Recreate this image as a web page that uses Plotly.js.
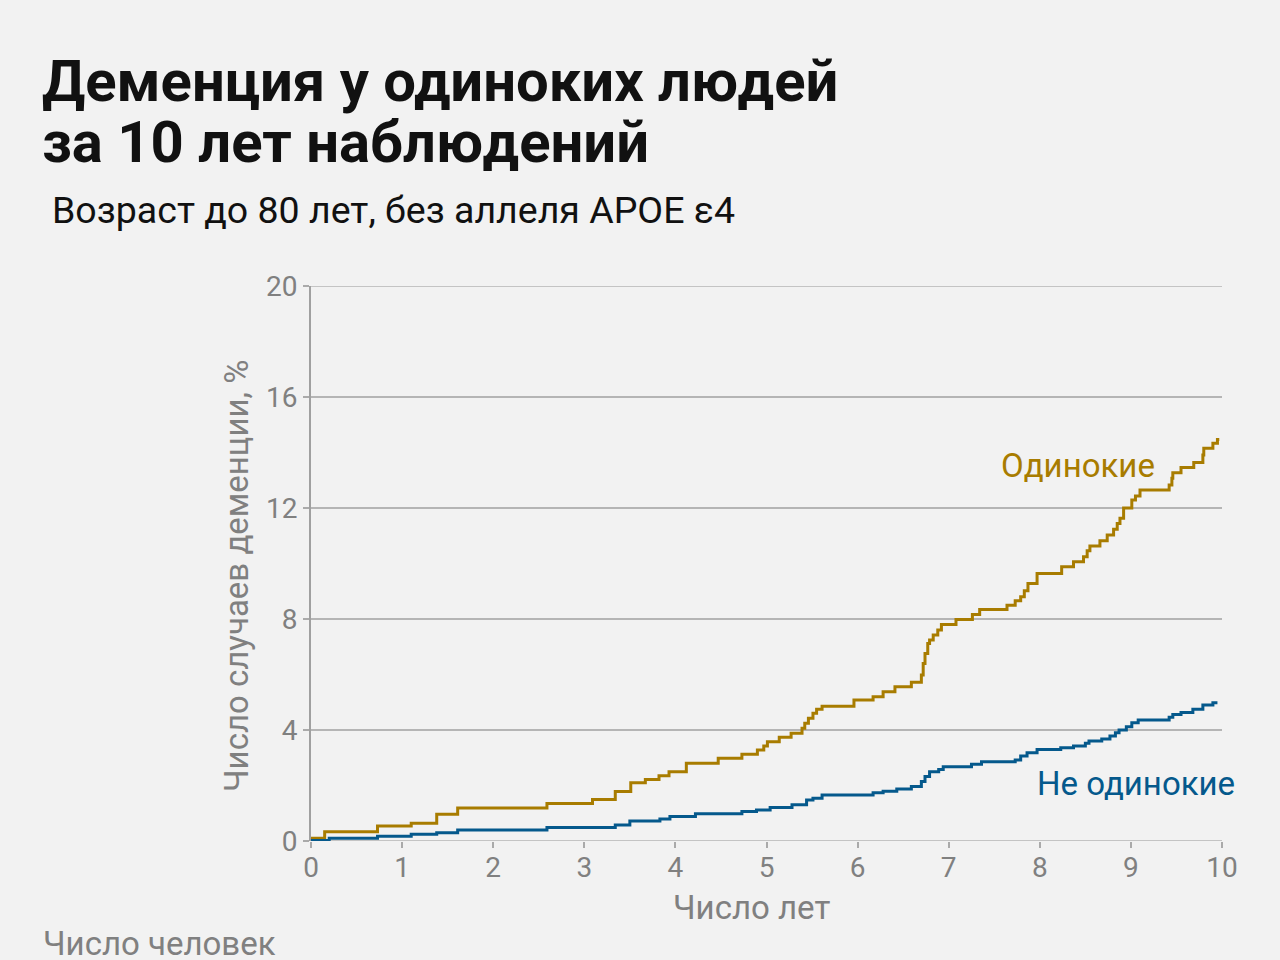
<!DOCTYPE html>
<html>
<head>
<meta charset="utf-8">
<script src="https://cdn.plot.ly/plotly-3.0.1.min.js"></script>
<style>html,body{margin:0;padding:0;background:#f2f2f2;}#chart{width:1280px;height:960px;}</style>
</head>
<body>
<div id="chart"></div>
<script>
// Одинокие (lonely)
const lonelyYears = [0, 0.15, 0.73, 1.1, 1.38, 1.61, 2.59, 3.09, 3.34, 3.51, 3.67, 3.82, 3.93, 4.12, 4.47, 4.73, 4.9, 4.97, 5.01, 5.14, 5.27, 5.39, 5.42, 5.46, 5.51, 5.55, 5.61, 5.96, 6.17, 6.28, 6.41, 6.59, 6.70, 6.72, 6.74, 6.77, 6.79, 6.83, 6.88, 6.92, 7.08, 7.26, 7.34, 7.64, 7.73, 7.79, 7.83, 7.87, 7.97, 8.24, 8.37, 8.48, 8.52, 8.55, 8.66, 8.74, 8.81, 8.85, 8.88, 8.92, 9.01, 9.05, 9.10, 9.42, 9.45, 9.46, 9.55, 9.69, 9.79, 9.80, 9.90, 9.95, 9.97];
const lonelyPct = [0.1, 0.33, 0.54, 0.64, 0.96, 1.19, 1.35, 1.5, 1.78, 2.1, 2.22, 2.35, 2.5, 2.8, 2.98, 3.13, 3.28, 3.42, 3.58, 3.74, 3.88, 4.06, 4.24, 4.42, 4.6, 4.75, 4.86, 5.08, 5.2, 5.38, 5.56, 5.72, 5.98, 6.4, 6.76, 7.12, 7.24, 7.42, 7.6, 7.8, 7.98, 8.16, 8.34, 8.5, 8.66, 8.8, 9.02, 9.28, 9.64, 9.88, 10.06, 10.24, 10.46, 10.63, 10.82, 11.03, 11.23, 11.44, 11.63, 12.0, 12.29, 12.43, 12.65, 12.83, 13.07, 13.27, 13.46, 13.64, 13.91, 14.15, 14.33, 14.47, 14.47];

// Не одинокие (not lonely)
const notLonelyYears = [0, 0.2, 0.73, 1.1, 1.38, 1.61, 2.59, 3.34, 3.50, 3.83, 3.94, 4.22, 4.73, 4.89, 5.04, 5.28, 5.44, 5.51, 5.61, 6.17, 6.28, 6.43, 6.59, 6.70, 6.74, 6.79, 6.89, 6.94, 7.25, 7.36, 7.73, 7.79, 7.86, 7.97, 8.23, 8.37, 8.50, 8.54, 8.68, 8.77, 8.83, 8.87, 8.95, 9.01, 9.08, 9.42, 9.46, 9.55, 9.68, 9.79, 9.90, 9.95];
const notLonelyPct = [0.02, 0.1, 0.17, 0.24, 0.3, 0.4, 0.49, 0.58, 0.72, 0.79, 0.88, 0.98, 1.06, 1.12, 1.21, 1.31, 1.48, 1.54, 1.66, 1.74, 1.79, 1.87, 1.96, 2.14, 2.32, 2.5, 2.58, 2.68, 2.77, 2.86, 2.92, 3.06, 3.18, 3.3, 3.36, 3.42, 3.52, 3.6, 3.68, 3.78, 3.9, 4.0, 4.12, 4.26, 4.36, 4.46, 4.56, 4.63, 4.75, 4.9, 4.98, 4.98];

const xTicks = [0, 1, 2, 3, 4, 5, 6, 7, 8, 9, 10];
const yTicks = [0, 4, 8, 12, 16, 20];

const GOLD = '#a87c00';
const BLUE = '#05598c';
const GRID = '#b5b5b5';
const FONT = 'Roboto, "Open Sans", sans-serif';

const traces = [
  {x: lonelyYears, y: lonelyPct, type: 'scatter', mode: 'lines', line: {shape: 'hv', color: GOLD, width: 3}, hoverinfo: 'skip', name: 'Одинокие'},
  {x: notLonelyYears, y: notLonelyPct, type: 'scatter', mode: 'lines', line: {shape: 'hv', color: BLUE, width: 3}, hoverinfo: 'skip', name: 'Не одинокие'}
];

const L = 311, R = 1222, T = 286, B = 841;
const px = v => (v - L) / (R - L);
const py = v => (B - v) / (B - T);

// edge grid lines (Plotly omits grid lines at the range edges)
const edgeGrid = [yTicks[0], yTicks[yTicks.length - 1]].map(v => ({
  type: 'line', xref: 'paper', yref: 'y', x0: 0, x1: 1, y0: v, y1: v,
  line: {color: GRID, width: 1.5}, layer: 'below'
}));

const layout = {
  width: 1280, height: 960,
  margin: {l: L, r: 1280 - R, t: T, b: 960 - B, pad: 0},
  paper_bgcolor: '#f2f2f2', plot_bgcolor: '#f2f2f2',
  showlegend: false,
  font: {family: FONT, color: '#777777'},
  xaxis: {
    range: [0, 10], tickvals: xTicks, ticktext: xTicks.map(String),
    showgrid: false, zeroline: false, showline: false,
    ticks: 'outside', ticklen: 6, tickcolor: '#aaaaaa', tickwidth: 2,
    ticklabelstandoff: -5,
    tickfont: {family: FONT, size: 28, color: '#808080'}, fixedrange: true
  },
  yaxis: {
    range: [0, 20], tickvals: yTicks, ticktext: yTicks.map(String),
    showgrid: true, gridcolor: GRID, gridwidth: 1.5,
    zeroline: false, showline: true, linecolor: '#a0a0a0', linewidth: 2,
    ticks: 'outside', ticklen: 6, tickcolor: '#aaaaaa', tickwidth: 1.5,
    tickfont: {family: FONT, size: 28, color: '#808080'}, fixedrange: true
  },
  shapes: edgeGrid,
  annotations: [
    {xref: 'paper', yref: 'paper', x: px(40), y: py(81), xanchor: 'left', yanchor: 'middle', align: 'left',
     text: '<b>Деменция у одиноких людей</b>', showarrow: false,
     font: {family: FONT, size: 58, color: '#111111'}},
    {xref: 'paper', yref: 'paper', x: px(40), y: py(142), xanchor: 'left', yanchor: 'middle', align: 'left',
     text: '<b>за 10 лет наблюдений</b>', showarrow: false,
     font: {family: FONT, size: 58, color: '#111111'}},
    {xref: 'paper', yref: 'paper', x: px(50), y: py(210), xanchor: 'left', yanchor: 'middle', align: 'left',
     text: 'Возраст до 80 лет, без аллеля APOE ε4', showarrow: false,
     font: {family: FONT, size: 37.5, color: '#111111'}},
    {xref: 'paper', yref: 'paper', x: px(1157), y: py(465), xanchor: 'right', yanchor: 'middle',
     text: 'Одинокие', showarrow: false, font: {family: FONT, size: 33, color: GOLD}},
    {xref: 'paper', yref: 'paper', x: px(1237), y: py(783), xanchor: 'right', yanchor: 'middle',
     text: 'Не одинокие', showarrow: false, font: {family: FONT, size: 33, color: BLUE}},
    {xref: 'paper', yref: 'paper', x: px(751), y: py(907), xanchor: 'center', yanchor: 'middle',
     text: 'Число лет', showarrow: false, font: {family: FONT, size: 33, color: '#808080'}},
    {xref: 'paper', yref: 'paper', x: px(236), y: py(576), xanchor: 'center', yanchor: 'middle', textangle: -90,
     text: 'Число случаев деменции, %', showarrow: false, font: {family: FONT, size: 33, color: '#808080'}},
    {xref: 'paper', yref: 'paper', x: px(41), y: py(943), xanchor: 'left', yanchor: 'middle',
     text: 'Число человек', showarrow: false, font: {family: FONT, size: 33, color: '#808080'}}
  ]
};

Plotly.newPlot('chart', traces, layout, {displayModeBar: false, staticPlot: true});
</script>
</body>
</html>
